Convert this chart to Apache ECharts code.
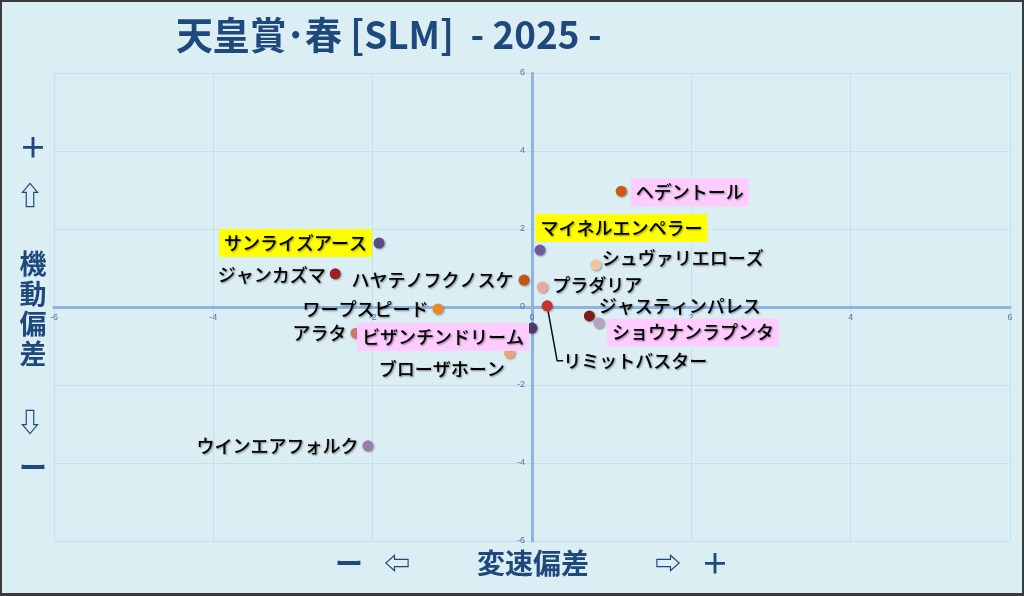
<!DOCTYPE html>
<html><head><meta charset="utf-8">
<script src="https://cdn.jsdelivr.net/npm/echarts@6/dist/echarts.min.js"></script>
<style>
html,body{margin:0;padding:0;background:#DAEEF3}
#wrap{position:relative;width:1024px;height:596px;overflow:hidden}
#chart{position:absolute;left:0;top:0;width:1024px;height:596px}
#frame{position:absolute;left:0;top:0;width:1024px;height:596px;box-sizing:border-box;border:2px solid #3c3c3c;border-bottom-width:3px;pointer-events:none}
</style></head><body>
<div id="wrap"><div id="chart"></div><div id="frame"></div></div>
<script>
// ---- data ----
const titleText = '天皇賞･春 [SLM]  - 2025 -';
const xAxisTitle = '変速偏差';
const yAxisTitle = '機動偏差';
const names = ['ヘデントール','マイネルエンペラー','サンライズアース','ジャンカズマ','ハヤテノフクノスケ',
  'シュヴァリエローズ','プラダリア','ワープスピード','リミットバスター','ジャスティンパレス',
  'ショウナンラプンタ','ビザンチンドリーム','アラタ','ブローザホーン','ウインエアフォルク'];
const speedDev    = [1.12, 0.10, -1.92, -2.47, -0.10, 0.80, 0.13, -1.18, 0.19, 0.72, 0.84, 0.00, -2.21, -0.28, -2.06];
const mobilityDev = [2.97, 1.46,  1.64,  0.85,  0.69, 1.08, 0.51, -0.05, 0.03, -0.23, -0.41, -0.54, -0.67, -1.18, -3.56];
const axisMin = -6, axisMax = 6, axisStep = 2;

// ---- styles ----
const colors = ['#D2580F','#6F5AA2','#5E4A88','#9A2222','#C4560E','#EEC6A2','#E8A9A0','#EC8A2A','#C93232','#7E1A1A',
  '#B9A2C3','#4A3868','#D07868','#ECA272','#9A7CA8'];
const YELLOW = '#FFFF00', PINK = '#FFCCFF';
const labelCfg = {
  'ヘデントール':      {pos:'right', dist:4,   dx:0,    dy:1,   bg:PINK},
  'マイネルエンペラー':{pos:'top',   dist:2.5, dx:81.5, dy:0,   bg:YELLOW},
  'サンライズアース':  {pos:'left',  dist:1.5, dx:0,    dy:0,   bg:YELLOW},
  'ジャンカズマ':      {pos:'left',  dist:4,   dx:0,    dy:1},
  'ハヤテノフクノスケ':{pos:'left',  dist:5,   dx:0,    dy:0},
  'シュヴァリエローズ':{pos:'right', dist:0.5, dx:0,    dy:-7},
  'プラダリア':        {pos:'right', dist:4.5, dx:0,    dy:-2},
  'ワープスピード':    {pos:'left',  dist:4,   dx:0,    dy:0},
  'リミットバスター':  {pos:'right', dist:5,   dx:5.5,  dy:55, line:true},
  'ジャスティンパレス':{pos:'right', dist:4,   dx:0,    dy:-10},
  'ショウナンラプンタ':{pos:'right', dist:2.5, dx:0,    dy:9.5, bg:PINK},
  'ビザンチンドリーム':{pos:'left',  dist:-2.5,dx:0,    dy:9,   bg:PINK},
  'アラタ':            {pos:'left',  dist:4,   dx:0,    dy:0},
  'ブローザホーン':    {pos:'left',  dist:-0.5,dx:0,    dy:16},
  'ウインエアフォルク':{pos:'left',  dist:4,   dx:0,    dy:0}
};
const NAVY = '#1F497D';
const AXIS = '#8DB4E2';
const LABEL_FONT = '"Noto Sans CJK JP", sans-serif';
const GRID = {left:54, right:14, top:73, bottom:55};
const W = 1024, H = 596;

const chart = echarts.init(document.getElementById('chart'));

function sideText(text, x, y, size, weight, lh) {
  return {
    type:'text', x:x, y:y, silent:true,
    style:{text:text, fill:NAVY, font:(weight||'bold')+' '+size+'px "Noto Sans CJK JP", "DejaVu Sans", sans-serif',
      textAlign:'center', textVerticalAlign:'middle', lineHeight:lh || size}
  };
}

const data = names.map((n, i) => {
  const c = labelCfg[n];
  const item = {
    name:n, value:[speedDev[i], mobilityDev[i]],
    itemStyle:{color:colors[i]},
    label:{position:c.pos, distance:c.dist,
      backgroundColor:c.bg || 'transparent', padding:c.bg ? [5,5] : 0}
  };
  if (c.line) item.labelLine = {show:true, length2:6, lineStyle:{color:'#111', width:1.5}};
  return item;
});

// put the axes through the origin (range is symmetric, so origin is the grid centre)
const plotW = W - GRID.left - GRID.right, plotH = H - GRID.top - GRID.bottom;
const axisCommon = {
  type:'value', min:axisMin, max:axisMax, interval:axisStep,
  axisTick:{show:false},
  axisLabel:{fontSize:9, color:'#4F77A6', margin:7, fontFamily:'"Liberation Sans", sans-serif'},
  splitLine:{show:true, lineStyle:{color:'#C7DEEC', width:1}}
};

chart.setOption({
  backgroundColor:'#DAEEF3',
  animation:false,
  grid:Object.assign({containLabel:false}, GRID),
  xAxis:Object.assign({}, axisCommon, {position:'bottom', offset:-plotH/2,
    axisLine:{onZero:false, lineStyle:{color:AXIS, width:3}},
    axisLabel:Object.assign({}, axisCommon.axisLabel, {margin:6})}),
  yAxis:Object.assign({}, axisCommon, {position:'left', offset:-plotW/2,
    axisLine:{onZero:false, lineStyle:{color:AXIS, width:3}}}),
  series:[{
    type:'scatter', symbol:'circle', symbolSize:11,
    itemStyle:{shadowBlur:2, shadowColor:'rgba(0,0,0,0.35)', shadowOffsetX:1, shadowOffsetY:1, opacity:1},
    label:{show:true, formatter:'{b}', fontSize:18, fontWeight:500, fontFamily:LABEL_FONT, color:'#000',
      textShadowColor:'rgba(0,0,0,0.45)', textShadowBlur:2, textShadowOffsetX:1, textShadowOffsetY:1},
    labelLayout:function(p){ const c = labelCfg[names[p.dataIndex]]; return {dx:c.dx, dy:c.dy}; },
    data:data, z:3
  }],
  graphic:[
    {type:'text', x:176, y:16, scaleX:0.97, silent:true,
      style:{text:titleText, fill:NAVY, font:'bold 38px "Noto Sans CJK JP", sans-serif', textAlign:'left', textVerticalAlign:'top'}},
    sideText('＋', 33, 147, 28),
    sideText('⇧', 30, 195, 26),
    sideText(yAxisTitle.split('').join('\n'), 33, 309, 27, 'bold', 30),
    sideText('⇩', 30, 422, 26),
    sideText('ー', 33, 467, 28),
    sideText('ー', 349, 563, 28),
    sideText('⇦', 397, 563, 26),
    sideText(xAxisTitle, 533, 563, 28),
    sideText('⇨', 668, 563, 26),
    sideText('＋', 715, 563, 28)
  ]
});
</script>
</body></html>
